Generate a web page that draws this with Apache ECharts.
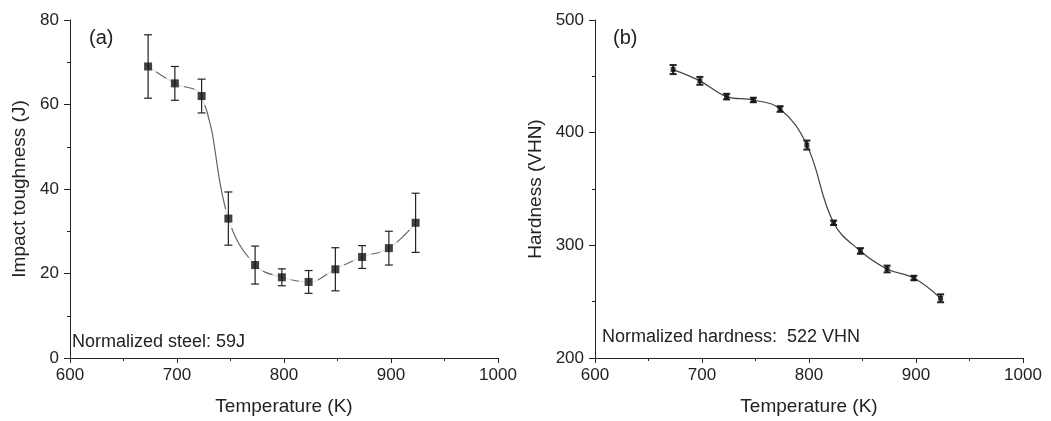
<!DOCTYPE html>
<html>
<head>
<meta charset="utf-8">
<script src="https://cdn.jsdelivr.net/npm/echarts@6/dist/echarts.min.js"></script>
<style>
  html, body { margin: 0; padding: 0; background: #fff; }
  #chart { width: 1051px; height: 421px; }
</style>
</head>
<body>
<div id="chart"></div>
<script>
const temps = [673, 698, 723, 748, 773, 798, 823, 848, 873, 898, 923];
const toughness = [69, 65, 62, 33, 22, 19.1, 18, 21, 23.9, 26, 32];
const toughnessErr = [7.5, 4, 4, 6.3, 4.5, 2, 2.7, 5.1, 2.7, 4, 7];
const hardness = [456, 446, 432, 429, 421, 389, 320, 295, 279, 271, 253];
const hardnessErr = [4, 3.5, 2.5, 2, 2.5, 4, 2, 2.5, 3, 2, 3.5];

const FONT = 'Liberation Sans, Arial, sans-serif';
const INK = '#222';
const MARK = '#111';

const pairs = (ys) => temps.map((t, i) => [t, ys[i]]);
const triples = (ys, es) => temps.map((t, i) => [t, ys[i], es[i]]);

function errorBars(capW, lw) {
  return function (params, api) {
    const x = api.value(0);
    const y = api.value(1);
    const e = api.value(2);
    const top = api.coord([x, y + e]);
    const bot = api.coord([x, y - e]);
    const style = { stroke: INK, lineWidth: lw };
    return {
      type: 'group',
      children: [
        { type: 'line', shape: { x1: top[0], y1: top[1], x2: bot[0], y2: bot[1] }, style },
        { type: 'line', shape: { x1: top[0] - capW / 2, y1: top[1], x2: top[0] + capW / 2, y2: top[1] }, style },
        { type: 'line', shape: { x1: bot[0] - capW / 2, y1: bot[1], x2: bot[0] + capW / 2, y2: bot[1] }, style },
      ],
    };
  };
}

function xAxis(gridIndex) {
  return {
    type: 'value',
    gridIndex,
    min: 600,
    max: 1000,
    interval: 100,
    name: 'Temperature (K)',
    nameLocation: 'middle',
    nameGap: 39,
    nameTextStyle: { color: INK, fontSize: 19, fontFamily: FONT },
    axisLine: { onZero: false, lineStyle: { color: INK, width: 1 } },
    axisTick: { show: true, length: 5, lineStyle: { color: INK } },
    minorTick: { show: true, splitNumber: 2, length: 3, lineStyle: { color: INK } },
    axisLabel: { color: INK, fontSize: 17, fontFamily: FONT, margin: 9, formatter: (v) => String(v) },
    splitLine: { show: false },
  };
}

function yAxis(gridIndex, min, max, interval, name, gap) {
  return {
    type: 'value',
    gridIndex,
    min,
    max,
    interval,
    name,
    nameLocation: 'middle',
    nameGap: gap,
    nameTextStyle: { color: INK, fontSize: 19, fontFamily: FONT },
    axisLine: { show: true, onZero: false, lineStyle: { color: INK, width: 1 } },
    axisTick: { show: true, length: 6, lineStyle: { color: INK } },
    minorTick: { show: true, splitNumber: 2, length: 3, lineStyle: { color: INK } },
    axisLabel: { color: INK, fontSize: 17, fontFamily: FONT, margin: 11, formatter: (v) => String(v) },
    splitLine: { show: false },
  };
}

const chart = echarts.init(document.getElementById('chart'), null, { renderer: 'canvas' });
chart.setOption({
  animation: false,
  backgroundColor: '#fff',
  grid: [
    { left: 70, top: 20, width: 428, height: 338 },
    { left: 595, top: 20, width: 428, height: 338 },
  ],
  xAxis: [xAxis(0), xAxis(1)],
  yAxis: [
    yAxis(0, 0, 80, 20, 'Impact toughness (J)', 41),
    yAxis(1, 200, 500, 100, 'Hardness (VHN)', 50),
  ],
  graphic: [
    { type: 'text', left: 89, top: 28, style: { text: '(a)', fill: INK, font: '20px ' + FONT } },
    { type: 'text', left: 72, top: 333, style: { text: 'Normalized steel: 59J', fill: INK, font: '18px ' + FONT } },
    { type: 'text', left: 613, top: 28, style: { text: '(b)', fill: INK, font: '20px ' + FONT } },
    { type: 'text', left: 602, top: 328, style: { text: 'Normalized hardness:  522 VHN', fill: INK, font: '18px ' + FONT } },
  ],
  series: [
    // (a) impact toughness
    {
      type: 'line', xAxisIndex: 0, yAxisIndex: 0, data: pairs(toughness),
      smooth: 0.4, showSymbol: false, z: 2,
      lineStyle: { color: '#666', width: 1.2 },
    },
    {
      type: 'scatter', xAxisIndex: 0, yAxisIndex: 0, data: pairs(toughness),
      symbol: 'circle', symbolSize: 20, z: 3, silent: true,
      itemStyle: { color: '#fff' },
    },
    {
      type: 'custom', xAxisIndex: 0, yAxisIndex: 0, data: triples(toughness, toughnessErr),
      renderItem: errorBars(8, 1.2), z: 4,
    },
    {
      type: 'scatter', xAxisIndex: 0, yAxisIndex: 0, data: pairs(toughness),
      symbol: 'rect', symbolSize: 8, z: 5,
      itemStyle: { color: MARK },
    },
    // (b) hardness
    {
      type: 'line', xAxisIndex: 1, yAxisIndex: 1, data: pairs(hardness),
      smooth: 0.4, showSymbol: false, z: 2,
      lineStyle: { color: '#444', width: 1.2 },
    },
    {
      type: 'custom', xAxisIndex: 1, yAxisIndex: 1, data: triples(hardness, hardnessErr),
      renderItem: errorBars(7, 2), z: 4,
    },
    {
      type: 'scatter', xAxisIndex: 1, yAxisIndex: 1, data: pairs(hardness),
      symbol: 'rect', symbolSize: 5, z: 5,
      itemStyle: { color: MARK },
    },
  ],
});
</script>
</body>
</html>
